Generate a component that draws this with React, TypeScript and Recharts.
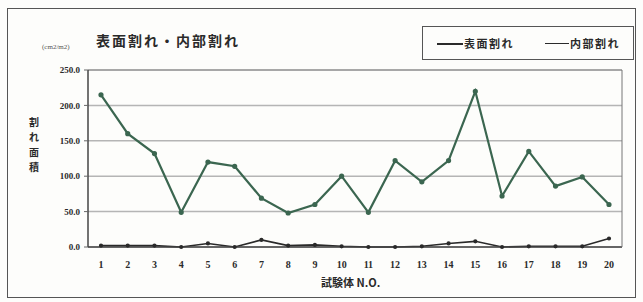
import { LineChart, Line, XAxis, YAxis, CartesianGrid } from "recharts";

// 試験体番号
const specimens = ["1", "2", "3", "4", "5", "6", "7", "8", "9", "10", "11", "12", "13", "14", "15", "16", "17", "18", "19", "20"];
// 表面割れ
const surfaceCrack = [215, 160, 132, 49, 120, 114, 69, 48, 60, 100, 49, 122, 92, 122, 220, 72, 135, 86, 99, 60];
// 内部割れ
const innerCrack = [2, 2, 2, 0, 5, 0, 10, 2, 3, 1, 0, 0, 1, 5, 8, 0, 1, 1, 1, 12];
const yTicks = [0, 50, 100, 150, 200, 250];
const yLabel = ["割", "れ", "面", "積"];

const data = specimens.map((no, i) => ({
  no,
  surface: surfaceCrack[i],
  inner: innerCrack[i],
}));

const GREEN = "#3b6650";
const INK = "#2a2a2a";
const serif = "'Liberation Serif', 'Noto Sans CJK JP', serif";
const jp = "'Noto Sans CJK JP', serif";

export default function App() {
  return (
    <div style={{ position: "absolute", left: 0, top: 0, width: 643, height: 302, background: "#fdfdfb", fontFamily: serif }}>
      {/* outer frame */}
      <div style={{ position: "absolute", left: 7, top: 8, width: 629, height: 290, border: "1.5px solid #555", boxSizing: "border-box" }} />

      {/* title */}
      <div style={{ position: "absolute", left: 96, top: 30, fontSize: 14, fontWeight: 700, letterSpacing: 2, color: INK, fontFamily: jp }}>
        表面割れ・内部割れ
      </div>

      {/* unit */}
      <div style={{ position: "absolute", left: 42, top: 43, fontSize: 7, color: "#555" }}>(cm2/m2)</div>

      {/* y label, one character per row */}
      {yLabel.map((ch, i) => (
        <div key={ch} style={{ position: "absolute", left: 29, top: 117 + i * 15, fontSize: 10, lineHeight: "10px", fontWeight: 700, color: INK, fontFamily: jp }}>
          {ch}
        </div>
      ))}

      {/* legend */}
      <div style={{ position: "absolute", left: 422, top: 26, width: 212, height: 34, border: "1.5px solid #555", boxSizing: "border-box", fontFamily: jp }}>
        <div style={{ position: "absolute", left: 14, top: 16, width: 26, borderTop: `2px solid ${INK}` }} />
        <div style={{ position: "absolute", left: 41, top: 8, fontSize: 11, fontWeight: 700, letterSpacing: 1.5, color: INK }}>表面割れ</div>
        <div style={{ position: "absolute", left: 122, top: 16, width: 24, borderTop: `1.5px solid ${INK}` }} />
        <div style={{ position: "absolute", left: 147, top: 8, fontSize: 11, fontWeight: 700, letterSpacing: 1.5, color: INK }}>内部割れ</div>
      </div>

      {/* x label */}
      <div style={{ position: "absolute", left: 321, top: 274, fontSize: 11, fontWeight: 700, color: INK, fontFamily: jp }}>
        試験体 N.O.
      </div>

      <div style={{ position: "absolute", left: 0, top: 0 }}>
        <LineChart width={643} height={302} data={data} margin={{ top: 69, right: 20, bottom: 25, left: 48 }}>
          <CartesianGrid vertical={false} stroke="#b5b5b5" strokeWidth={1.5} />
          <XAxis
            dataKey="no"
            height={30}
            padding={{ left: 13, right: 13 }}
            interval={0}
            tickLine={false}
            axisLine={{ stroke: "#444", strokeWidth: 1.5 }}
            tick={{ fill: INK, fontSize: 10, fontWeight: 700, fontFamily: serif }}
            tickMargin={8}
          />
          <XAxis xAxisId="top" orientation="top" dataKey="no" height={1} tick={false} tickLine={false} axisLine={{ stroke: "#888", strokeWidth: 1 }} />
          <YAxis
            width={40}
            domain={[0, 250]}
            ticks={yTicks}
            interval={0}
            tickFormatter={(v: number) => v.toFixed(1)}
            tickSize={4}
            tickLine={{ stroke: "#666" }}
            axisLine={{ stroke: "#444", strokeWidth: 1.5 }}
            tick={{ fill: INK, fontSize: 9, fontWeight: 700, fontFamily: serif }}
            tickMargin={4}
          />
          <YAxis yAxisId="right" orientation="right" width={1} domain={[0, 250]} tick={false} tickLine={false} axisLine={{ stroke: "#777", strokeWidth: 1 }} />
          <Line
            dataKey="surface"
            type="linear"
            stroke={GREEN}
            strokeWidth={2.2}
            dot={{ r: 1.5, fill: GREEN, stroke: GREEN }}
            isAnimationActive={false}
          />
          <Line
            dataKey="inner"
            type="linear"
            stroke={INK}
            strokeWidth={1.6}
            dot={{ r: 1.3, fill: INK, stroke: INK }}
            isAnimationActive={false}
          />
        </LineChart>
      </div>
    </div>
  );
}
